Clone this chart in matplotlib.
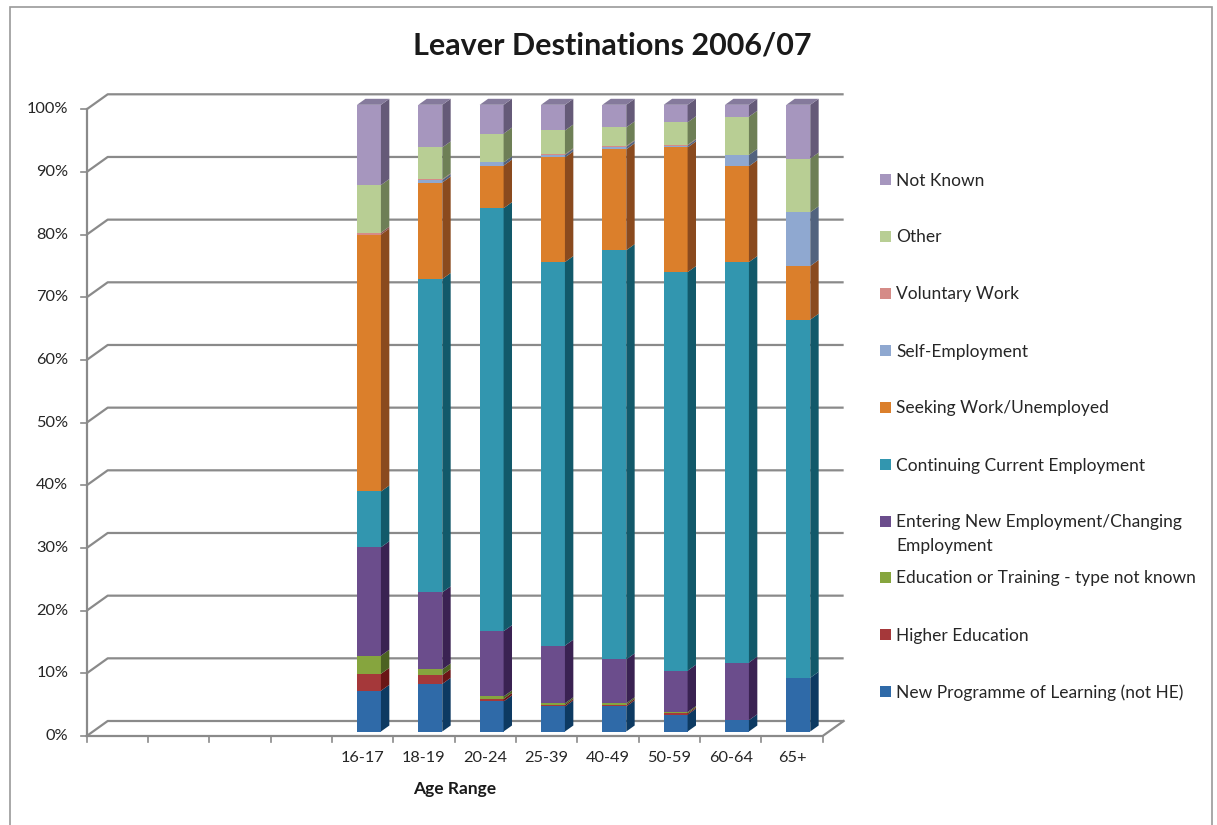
import numpy as np
import matplotlib
matplotlib.use("Agg")
import matplotlib.pyplot as plt
from matplotlib.patches import Polygon, Rectangle

plt.rcParams['font.family'] = ['Lato', 'DejaVu Sans']

# 12 category slots, first four are empty
categories = ['', '', '', '', '16-17', '18-19', '20-24', '25-39', '40-49', '50-59', '60-64', '65+']

series = ['New Programme of Learning (not HE)', 'Higher Education',
          'Education or Training - type not known',
          'Entering New Employment/Changing Employment',
          'Continuing Current Employment', 'Seeking Work/Unemployed',
          'Self-Employment', 'Voluntary Work', 'Other', 'Not Known']

# percent per age range (16-17 ... 65+)
new_programme = [6.5, 7.6, 4.8, 4.0, 4.0, 2.7, 1.8, 8.57]
higher_ed     = [2.7, 1.4, 0.4, 0.25, 0.25, 0.2, 0.0, 0.0]
edu_training  = [2.9, 0.9, 0.4, 0.25, 0.25, 0.2, 0.0, 0.0]
entering_new  = [17.3, 12.3, 10.4, 9.2, 7.0, 6.6, 9.2, 0.0]
continuing    = [8.9, 50.0, 67.5, 61.2, 65.3, 63.6, 63.9, 57.14]
seeking_work  = [41.0, 15.4, 6.8, 16.7, 16.1, 19.9, 15.3, 8.57]
self_employed = [0.0, 0.4, 0.5, 0.4, 0.4, 0.3, 1.8, 8.57]
voluntary     = [0.3, 0.1, 0.0, 0.1, 0.1, 0.1, 0.0, 0.0]
other         = [7.6, 5.1, 4.6, 3.8, 3.0, 3.6, 6.1, 8.57]
not_known     = [12.8, 6.8, 4.6, 4.1, 3.6, 2.8, 1.9, 8.58]

values = [new_programme, higher_ed, edu_training, entering_new, continuing,
          seeking_work, self_employed, voluntary, other, not_known]

front_cols = ['#2f6aa8', '#a5383a', '#86a53e', '#6b4d8c', '#3296af',
              '#db7f2b', '#8fa8d0', '#d58b87', '#b8ce94', '#a696be']
side_cols = ['#0d3a62', '#6a1516', '#4c6222', '#3a2252', '#12596a',
             '#8a4a1e', '#52637e', '#8a5451', '#6e7f56', '#655a78']
top_cols = ['#244f7e', '#842b2c', '#6b8533', '#54406e', '#277a8e',
            '#b0672a', '#7086a8', '#ac716e', '#96a978', '#857a9c']

W, H = 1217, 825
slot_px = 61.33
pct_px = 6.267
DX = 21 / slot_px   # depth offset in slot units
DY = 15 / pct_px    # depth offset in percent units

fig = plt.figure(figsize=(W / 100, H / 100), dpi=100)
ax = fig.add_axes([86.7 / W, (H - 736) / H, (12 * slot_px + 21) / W, (100 * pct_px + 15) / H])
ax.set_xlim(0, 12 + DX)
ax.set_ylim(0, 100 + DY)
ax.axis('off')

grid_c = '#8a8a8a'
txt_c = '#262626'
n = len(categories)

# walls / gridlines
for k in range(0, 101, 10):
    ax.plot([0, DX, n + DX], [k, k + DY, k + DY], color=grid_c, lw=1.6, zorder=1,
            solid_capstyle='butt', clip_on=False)
    ax.plot([-0.1, 0], [k, k], color=grid_c, lw=1.2, zorder=1, clip_on=False)
    ax.text(-0.3, k, '%d%%' % k, ha='right', va='center', fontsize=11.8, color=txt_c)
ax.plot([0, 0], [0, 100], color=grid_c, lw=1.6, zorder=1, clip_on=False)
ax.plot([0, n, n + DX], [0, 0, DY], color=grid_c, lw=1.6, zorder=1, clip_on=False)
for i in range(n + 1):
    ax.plot([i, i], [0, -1.0], color=grid_c, lw=1.2, zorder=1, clip_on=False)
for i, c in enumerate(categories):
    ax.text(i + 0.5, -2.4, c, ha='center', va='top', fontsize=11.8, color=txt_c)

# 3D stacked bars
z0, zd = 0.3, 0.4
bw = 0.39
first = categories.index('16-17')
for j in range(len(categories) - first):
    xc = first + j + 0.5 + z0 * DX
    xl, xr = xc - bw / 2, xc + bw / 2
    cum = z0 * DY
    top_idx = max(s for s in range(len(series)) if values[s][j] > 0)
    for s in range(len(series)):
        v = values[s][j]
        if v <= 0:
            continue
        ax.bar(xc, v, bottom=cum, width=bw, color=front_cols[s], lw=0, zorder=3)
        side = Polygon([(xr, cum), (xr, cum + v), (xr + zd * DX, cum + v + zd * DY),
                        (xr + zd * DX, cum + zd * DY)], closed=True,
                       facecolor=side_cols[s], lw=0, zorder=3)
        ax.add_patch(side)
        if s == top_idx:
            t = cum + v
            top = Polygon([(xl, t), (xr, t), (xr + zd * DX, t + zd * DY),
                           (xl + zd * DX, t + zd * DY)], closed=True,
                          facecolor=top_cols[s], lw=0, zorder=3)
            ax.add_patch(top)
        cum += v

# title and axis title
fig.text(612 / W, 1 - 46 / H, 'Leaver Destinations 2006/07', ha='center', va='center',
         fontsize=22, fontweight='bold', color='#1a1a1a')
fig.text(454.7 / W, 1 - 789 / H, 'Age Range', ha='center', va='center',
         fontsize=12.5, fontweight='bold', color='#1a1a1a')

# legend (top to bottom)
leg_y = [179, 236, 293, 350, 407, 464, 521, 577, 634, 691]
fs_leg = 12.5
for s, y in zip(range(len(series) - 1, -1, -1), leg_y):
    fig.add_artist(Rectangle(((880) / W, 1 - (y + 5.5) / H), 11 / W, 11 / H,
                             transform=fig.transFigure, facecolor=front_cols[s], lw=0))
    label = series[s]
    ty = y + 1.5
    if label.startswith('Entering'):
        fig.text(896 / W, 1 - ty / H, 'Entering New Employment/Changing', ha='left',
                 va='center', fontsize=fs_leg, color=txt_c)
        fig.text(896 / W, 1 - (ty + 23) / H, 'Employment', ha='left', va='center',
                 fontsize=fs_leg, color=txt_c)
    else:
        fig.text(896 / W, 1 - ty / H, label, ha='left', va='center', fontsize=fs_leg,
                 color=txt_c)

# chart frame
fig.add_artist(Rectangle((10 / W, -0.02), (1212 - 10) / W, 1.02 - 7 / H,
                         transform=fig.transFigure, fill=False, edgecolor='#9a9a9a', lw=1.2))

fig.savefig('out.png', dpi=100)
